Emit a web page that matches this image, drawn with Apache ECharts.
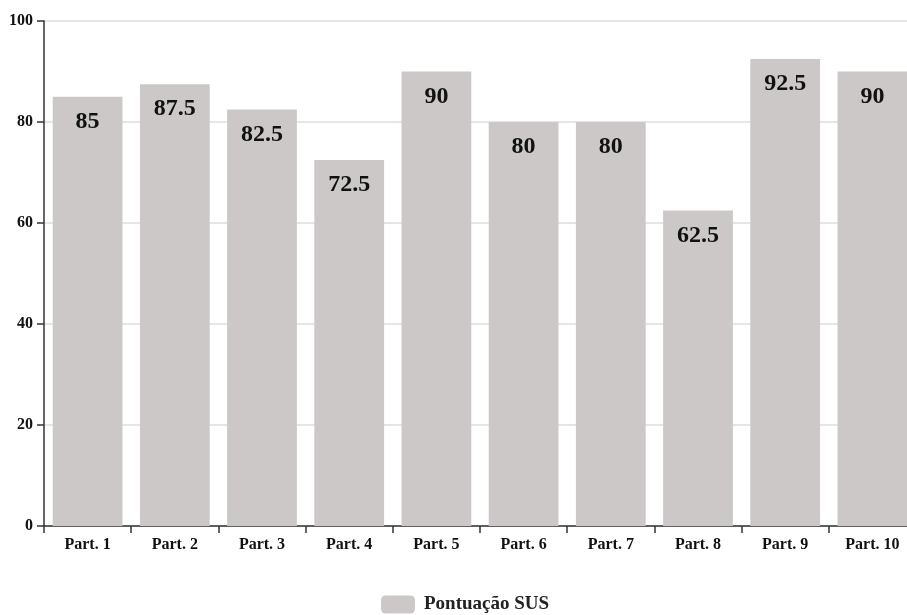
<!DOCTYPE html>
<html>
<head>
<meta charset="utf-8">
<script src="https://cdn.jsdelivr.net/npm/echarts@6/dist/echarts.min.js"></script>
<style>
  html, body { margin: 0; padding: 0; background: #fff; }
  #chart { width: 907px; height: 615px; }
</style>
</head>
<body>
<div id="chart"></div>
<script>
// Participants and their SUS scores
const categories = ['Part. 1', 'Part. 2', 'Part. 3', 'Part. 4', 'Part. 5', 'Part. 6', 'Part. 7', 'Part. 8', 'Part. 9', 'Part. 10'];
const susScores = [85, 87.5, 82.5, 72.5, 90, 80, 80, 62.5, 92.5, 90];
const seriesName = 'Pontuação SUS';

const FONT = '"Liberation Serif", "DejaVu Serif", serif';

const chart = echarts.init(document.getElementById('chart'), null, { renderer: 'canvas' });
chart.setOption({
  animation: false,
  textStyle: { fontFamily: FONT },
  // the plot runs slightly past the right edge, so the last bar is cut off
  grid: { left: 44, right: -9, top: 21, bottom: 89, containLabel: false, outerBoundsMode: 'none' },
  legend: {
    top: 590,
    left: 376,
    itemWidth: 34,
    itemHeight: 18,
    itemGap: 10,
    icon: 'roundRect',
    textStyle: { fontFamily: FONT, fontWeight: 'bold', fontSize: 19, color: '#222', padding: [0, 0, 0, 4] },
    data: [seriesName]
  },
  xAxis: {
    type: 'category',
    data: categories,
    axisLine: { lineStyle: { color: '#333', width: 1.5 } },
    axisTick: { show: true, length: 7, lineStyle: { color: '#333', width: 1.5 } },
    axisLabel: { fontFamily: FONT, fontWeight: 'bold', fontSize: 16, color: '#111', margin: 11 }
  },
  yAxis: {
    type: 'value',
    min: 0,
    max: 100,
    interval: 20,
    axisLine: { show: true, lineStyle: { color: '#333', width: 1.5 } },
    axisTick: { show: true, length: 7, lineStyle: { color: '#333', width: 1.5 } },
    axisLabel: { fontFamily: FONT, fontWeight: 'bold', fontSize: 16, color: '#111', margin: 11 },
    splitLine: { lineStyle: { color: '#e6e6e6', width: 2 } }
  },
  series: [{
    name: seriesName,
    type: 'bar',
    data: susScores,
    barWidth: '80%',
    itemStyle: { color: '#ccc8c8' },
    label: {
      show: true,
      position: 'insideTop',
      distance: 13,
      fontFamily: FONT,
      fontWeight: 'bold',
      fontSize: 24,
      color: '#111'
    }
  }]
});
</script>
</body>
</html>
